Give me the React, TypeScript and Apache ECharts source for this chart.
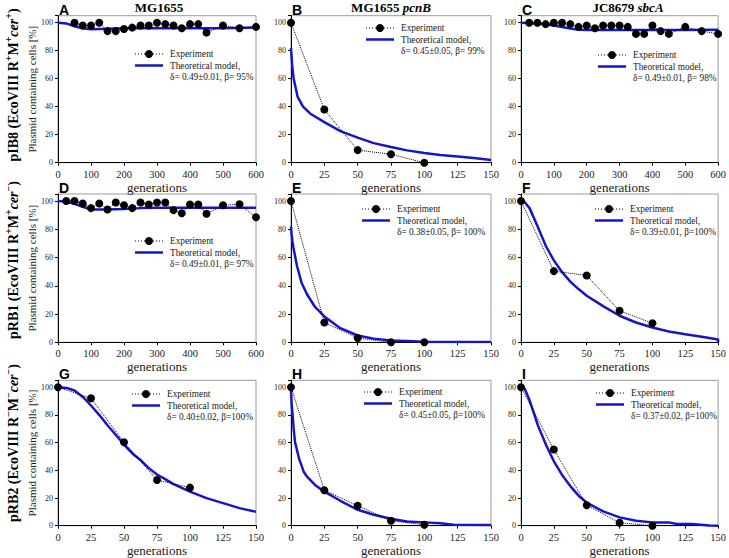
import React, { useEffect, useRef } from 'react';
import * as echarts from 'echarts';

const SERIF = 'Liberation Serif';
const SANS = 'Liberation Sans';
const BLUE = '#1616c8';
const TXT = '#1a1a1a';

// ---------- Data ----------
// Panel A: pIB8, MG1655
const expA_x = [50, 75, 100, 125, 150, 175, 200, 225, 250, 275, 300, 325, 350, 375, 400, 425, 450, 500, 550, 600];
const expA_y = [100, 98, 98, 100, 94, 94, 95.5, 96.5, 98, 98, 100, 99, 98, 96, 99, 99, 93, 98, 96, 97];
const thA_x = [0, 25, 50, 75, 100, 150, 200, 300, 400, 500, 600];
const thA_y = [100, 99.5, 97.5, 96, 95.4, 95.6, 96, 96, 96, 96, 96.5];

// Panel B: pIB8, MG1655 pcnB
const expB_x = [0, 25, 50, 75, 100];
const expB_y = [100, 38, 9, 6, 0];
const thB_x = [0, 0.5, 1, 2, 5, 9, 14.5, 25, 37, 50, 62, 75, 87, 100, 112, 125, 137, 150];
const thB_y = [82, 75, 68, 60, 47, 40, 35, 29, 22.6, 17.9, 14, 11.2, 8.8, 6.9, 5.5, 4.5, 3.3, 2];

// Panel C: pIB8, JC8679 sbcA
const expC_x = [25, 50, 75, 100, 125, 150, 175, 200, 225, 250, 275, 300, 325, 350, 375, 400, 425, 450, 500, 550, 600];
const expC_y = [100, 100, 99, 100, 100, 99, 97, 98, 96, 98, 98, 98, 97, 92, 92, 98, 94, 92, 97, 94, 92];
const thC_x = [0, 50, 100, 150, 175, 200, 300, 400, 500, 600];
const thC_y = [100, 99.5, 98, 95.8, 95, 94.8, 94.8, 94.8, 94.8, 95];

// Panel D: pRB1, MG1655
const expD_x = [25, 50, 75, 100, 125, 150, 175, 200, 225, 250, 275, 300, 325, 350, 375, 400, 425, 450, 500, 550, 600];
const expD_y = [100, 100, 98.3, 95, 98.3, 94, 99, 97, 95, 99, 97.6, 99, 99, 93.6, 91.4, 97.6, 97.6, 91, 97, 97.8, 88.5];
const thD_x = [0, 25, 50, 75, 100, 150, 200, 250, 300, 600];
const thD_y = [100, 99.5, 98, 96, 94, 94, 94.3, 95, 95.2, 95.2];

// Panel E: pRB1, MG1655 pcnB
const expE_x = [0, 25, 50, 75, 100];
const expE_y = [100, 14, 3, 0, 0];
const thE_x = [0, 0.5, 1, 2, 4.5, 8, 12, 18, 25, 37, 50, 62, 75, 92, 100, 125, 150];
const thE_y = [82, 76, 72, 66, 54, 42, 34, 25, 18.3, 10, 4.8, 2.6, 1.2, 0.7, 0.2, 0.2, 0.2];

// Panel F: pRB1, JC8679 sbcA
const expF_x = [0, 25, 50, 75, 100];
const expF_y = [100, 50.4, 47.3, 22.3, 13.5];
const thF_x = [0, 3, 6.5, 12.5, 19, 25, 31, 37.5, 44, 50, 62.5, 75, 87.5, 100, 112.5, 125, 137.5, 150, 150];
const thF_y = [100, 99, 95, 82.4, 68, 58, 50, 43, 37.5, 33, 25.6, 18.8, 14, 10.5, 7.6, 5.7, 4, 2, 0];

// Panel G: pRB2, MG1655
const expG_x = [0, 25, 50, 75, 100];
const expG_y = [100, 92, 60.3, 33, 27.5];
const thG_x = [0, 6.5, 12.5, 19, 25, 31.5, 37.5, 44, 50, 56.5, 62.5, 69, 75, 81.5, 87.5, 100, 112.5, 125, 137.5, 150];
const thG_y = [100, 99.5, 97.6, 92.8, 86.8, 79.7, 72.5, 65.3, 58.6, 52, 47.4, 41.4, 37, 33.5, 30, 24.6, 19.9, 16.3, 12.7, 10];

// Panel H: pRB2, MG1655 pcnB
const expH_x = [0, 25, 50, 75, 100];
const expH_y = [100, 25.6, 14.4, 3.6, 0.7];
const thH_x = [0, 0.5, 1, 2, 3, 6, 9.5, 12, 18, 25, 37, 50, 62, 75, 87, 100, 112, 122, 150];
const thH_y = [98, 88, 82, 70, 60.5, 48.6, 39, 35.4, 29.4, 24.6, 18, 11.5, 7.9, 5, 3.1, 2.4, 1.7, 0.7, 0.5];

// Panel I: pRB2, JC8679 sbcA
const expI_x = [0, 25, 50, 75, 100];
const expI_y = [100, 55, 14.8, 2.1, 0];
const thI_x = [0, 2.7, 6.5, 12.7, 19, 25, 31, 37.5, 44, 50, 62.5, 75, 87.5, 100, 112.5, 118.6, 130, 143.6, 150];
const thI_y = [100, 99, 90.7, 72.8, 58.5, 46.5, 37, 28.6, 21.5, 16.7, 10.3, 6, 3.6, 2.4, 2.4, 1.2, 1.2, 0.2, 0];

const letters = ['A', 'B', 'C', 'D', 'E', 'F', 'G', 'H', 'I'];
const deltas = [
  'δ= 0.49±0.01, β= 95%',
  'δ= 0.45±0.05, β= 99%',
  'δ= 0.49±0.01, β= 98%',
  'δ= 0.49±0.01, β= 97%',
  'δ= 0.38±0.05, β= 100%',
  'δ= 0.39±0.01, β=100%',
  'δ= 0.40±0.02, β=100%',
  'δ= 0.45±0.05, β=100%',
  'δ= 0.37±0.02, β=100%',
];
const xMaxes = [600, 150, 600, 600, 150, 150, 150, 150, 150];
const xIntervals = [100, 25, 100, 100, 25, 25, 25, 25, 25];
const expXs = [expA_x, expB_x, expC_x, expD_x, expE_x, expF_x, expG_x, expH_x, expI_x];
const expYs = [expA_y, expB_y, expC_y, expD_y, expE_y, expF_y, expG_y, expH_y, expI_y];
const thXs = [thA_x, thB_x, thC_x, thD_x, thE_x, thF_x, thG_x, thH_x, thI_x];
const thYs = [thA_y, thB_y, thC_y, thD_y, thE_y, thF_y, thG_y, thH_y, thI_y];

const yTicks = [0, 20, 40, 60, 80, 100];
const yAxisTitle = 'Plasmid containing cells [%]';
const xAxisTitle = 'generations';
const legendExp = 'Experiment';
const legendTh = 'Theoretical model,';

// ---------- Layout ----------
const colLeft = [58, 291, 521];
const colWidth = [198, 200, 199];
const rowTop = [15.7, 194, 380.3];
const rowHeight = [147, 148.3, 145.4];
const xNameGap = [16, 17, 17];
// legend anchor [x, y] for each panel
const legendPos = [
  [135, 54], [366, 28], [598, 55],
  [135, 241], [362, 209], [595, 209],
  [132, 394], [364, 392], [596, 393],
];

const zip = (xs: number[], ys: number[]) => xs.map((x, i) => [x, ys[i]]);

const r = (size: number, extra: any = {}) => ({ fontFamily: SERIF, fontSize: size, fontWeight: 'normal', color: TXT, fill: TXT, ...extra });

function buildOption() {
  const grid: any[] = [];
  const xAxis: any[] = [];
  const yAxis: any[] = [];
  const series: any[] = [];
  const graphic: any[] = [];

  for (let i = 0; i < 9; i++) {
    const row = Math.floor(i / 3);
    const c = i % 3;
    grid.push({
      left: colLeft[c], top: rowTop[row], width: colWidth[c], height: rowHeight[row],
      show: true, borderColor: '#9a9a9a', borderWidth: 1, backgroundColor: 'transparent',
    });
    xAxis.push({
      type: 'value', gridIndex: i, min: 0, max: xMaxes[i], interval: xIntervals[i],
      name: '{t|' + xAxisTitle + '}', nameLocation: 'middle', nameGap: xNameGap[row],
      nameTextStyle: { fontFamily: SERIF, fontSize: 13, color: TXT, rich: { t: r(13) } },
      axisLine: { show: true, onZero: false, lineStyle: { color: '#000', width: 1 } },
      axisTick: { show: true, length: 3, lineStyle: { color: '#000' } },
      axisLabel: {
        fontFamily: SERIF, fontSize: 10.5, color: TXT, margin: 6,
        formatter: (v: number) => '{t|' + v + '}',
        rich: { t: r(10.5) },
      },
      splitLine: { show: false },
    });
    yAxis.push({
      type: 'value', gridIndex: i, min: 0, max: 105, interval: 20,
      name: c === 0 ? '{t|' + yAxisTitle + '}' : '', nameLocation: 'middle', nameGap: 19,
      nameTextStyle: { fontFamily: SERIF, fontSize: 11, color: TXT, rich: { t: r(11) } },
      axisLine: { show: true, onZero: false, lineStyle: { color: '#000', width: 1 } },
      axisTick: { show: true, length: 3, lineStyle: { color: '#000' } },
      axisLabel: {
        fontFamily: SERIF, fontSize: 8, color: TXT, margin: 5,
        formatter: (v: number) => (yTicks.indexOf(v) >= 0 ? '{t|' + v + '}' : ''),
        rich: { t: r(8) },
      },
      splitLine: { show: false },
    });
    series.push({
      type: 'line', xAxisIndex: i, yAxisIndex: i, name: legendTh,
      data: zip(thXs[i], thYs[i]), symbol: 'none', showSymbol: false,
      lineStyle: { color: BLUE, width: 2.5 }, z: 2,
    });
    series.push({
      type: 'line', xAxisIndex: i, yAxisIndex: i, name: legendExp,
      data: zip(expXs[i], expYs[i]), symbol: 'circle', symbolSize: 8,
      itemStyle: { color: '#000' },
      lineStyle: { color: '#000', width: 1, type: 'dotted' }, z: 3,
    });

    // legend
    const [lx, ly] = legendPos[i];
    const lrich = { t: r(9.3) };
    const lf = { rich: lrich, verticalAlign: 'middle', align: 'left' };
    graphic.push(
      { type: 'line', shape: { x1: lx, y1: ly, x2: lx + 28, y2: ly }, style: { stroke: '#000', lineWidth: 1, lineDash: [1, 2] } },
      { type: 'circle', shape: { cx: lx + 14, cy: ly, r: 4 }, style: { fill: '#000' } },
      { type: 'text', x: lx + 35, y: ly, style: { ...lf, text: '{t|' + legendExp + '}' } },
      { type: 'line', shape: { x1: lx, y1: ly + 11.5, x2: lx + 28, y2: ly + 11.5 }, style: { stroke: BLUE, lineWidth: 2.5 } },
      { type: 'text', x: lx + 35, y: ly + 11.5, style: { ...lf, text: '{t|' + legendTh + '}' } },
      { type: 'text', x: lx + 35, y: ly + 23, style: { ...lf, text: '{t|' + deltas[i] + '}' } },
    );
    // panel letter
    graphic.push({
      type: 'text', x: colLeft[c] + 1, y: rowTop[row] - 6,
      style: { text: '{t|' + letters[i] + '}', rich: { t: { fontFamily: SANS, fontWeight: 'bold', fontSize: 14, fill: '#000' } }, verticalAlign: 'middle', align: 'left' },
    });
  }

  // column titles
  const titleRich = {
    b: { fontFamily: SERIF, fontWeight: 'bold', fontSize: 13, fill: '#000' },
    bi: { fontFamily: SERIF, fontWeight: 'bold', fontStyle: 'italic', fontSize: 13, fill: '#000' },
  };
  graphic.push(
    { type: 'text', x: 159, y: 7, style: { text: '{b|MG1655}', rich: titleRich, align: 'center', verticalAlign: 'middle' } },
    { type: 'text', x: 391, y: 7, style: { text: '{b|MG1655 }{bi|pcnB}', rich: titleRich, align: 'center', verticalAlign: 'middle' } },
    { type: 'text', x: 628, y: 7, style: { text: '{b|JC8679 }{bi|sbcA}', rich: titleRich, align: 'center', verticalAlign: 'middle' } },
  );

  // row labels
  const rowRich = {
    b: { fontFamily: SERIF, fontWeight: 'bold', fontSize: 14, fill: '#000', lineHeight: 20 },
    bi: { fontFamily: SERIF, fontWeight: 'bold', fontStyle: 'italic', fontSize: 14, fill: '#000', lineHeight: 20 },
    s: { fontFamily: SERIF, fontWeight: 'bold', fontSize: 10, fill: '#000', lineHeight: 10, verticalAlign: 'top' },
  };
  const rowTexts = [
    '{b|pIB8 (EcoVIII R}{s|+}{b|M}{s|+}{bi|cer}{s|+}{b|)}',
    '{b|pRB1 (EcoVIII R}{s|+}{b|M}{s|+}{bi|cer}{s|−}{b|)}',
    '{b|pRB2 (EcoVIII R}{s|−}{b|M}{s|−}{bi|cer}{s|−}{b|)}',
  ];
  const rowCenters = [85, 260, 443];
  rowTexts.forEach((t, k) => {
    graphic.push({
      type: 'text', x: 13, y: rowCenters[k], rotation: Math.PI / 2,
      style: { text: t, rich: rowRich, align: 'center', verticalAlign: 'middle' },
    });
  });

  return { animation: false, backgroundColor: '#fff', textStyle: { fontFamily: SERIF }, grid, xAxis, yAxis, series, graphic };
}

export default function App() {
  const ref = useRef<HTMLDivElement>(null);
  useEffect(() => {
    if (!ref.current) return;
    const chart = echarts.init(ref.current, undefined, { renderer: 'svg' });
    chart.setOption(buildOption() as any);
    return () => chart.dispose();
  }, []);
  return (
    <div
      ref={ref}
      style={{ position: 'fixed', left: 0, top: 0, width: 729, height: 558, background: '#fff' }}
    />
  );
}
